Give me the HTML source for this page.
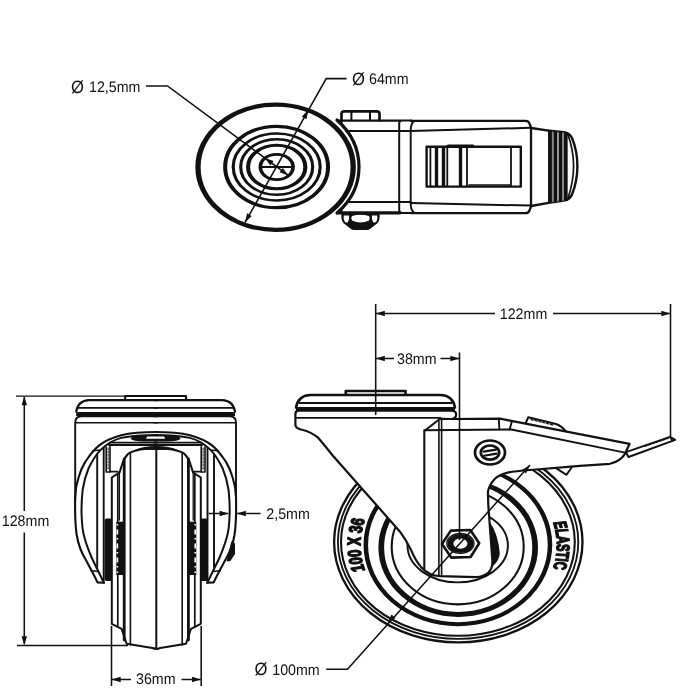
<!DOCTYPE html>
<html>
<head>
<meta charset="utf-8">
<title>Caster dimensions</title>
<style>
html,body{margin:0;padding:0;background:#fff;}
body{width:700px;height:700px;overflow:hidden;}
svg{display:block;opacity:0.999;will-change:transform;}
svg text{font-family:"Liberation Sans",sans-serif;fill:#111;-webkit-font-smoothing:antialiased;text-rendering:geometricPrecision;}
.t{font-size:15.3px;}
.k{stroke:#111;fill:none;stroke-linecap:round;stroke-linejoin:round;}
.w{fill:#fff;}
.b{fill:#111;stroke:none;}
.d{stroke:#111;stroke-width:1.55;fill:none;}
</style>
</head>
<body>
<svg width="700" height="700" viewBox="0 0 700 700">
<rect width="700" height="700" fill="#fff"/>
<defs>
<path id="ah" d="M0,0 L-9,-2.7 L-9,2.7 Z"/>
</defs>

<!-- ================= TOP VIEW ================= -->
<g id="topview" class="k" stroke-width="1.8">
<!--TOP-->
<!-- bolt head (top) -->
<path d="M341.5,120.5 V114 Q341.5,111.3 344.2,111.3 H376.8 Q379.5,111.3 379.5,114 V120.5" stroke-width="2.7"/>
<path d="M351.4,112 V120 M370,112 V120" stroke-width="2"/>
<!-- body left part -->
<path d="M338,120.6 H400 M346,131 H410.7 M349,202 H410.7 M338,212.6 H400" stroke-width="2.2"/>
<path d="M341.5,120.6 V124 M341.5,212.6 V208" stroke-width="2"/>
<!-- collar -->
<path d="M411.5,120.6 H401.8 Q399.2,120.6 399.2,123.4 V210 Q399.2,213 401.8,213 H411.5" stroke-width="2"/>
<path d="M414,121 Q410.8,124 410.7,130 V204 Q410.8,210 414,212.6" stroke-width="1.9"/>
<!-- body right part -->
<path d="M411,120.8 H525.5 Q528.6,120.8 529.4,123.4 L531.2,128 L548.6,130.7" stroke-width="2.3"/>
<path d="M411,213.2 H525.5 Q528.6,213.2 529.4,210.6 L531.2,206 L548.6,202.8" stroke-width="2.3"/>
<path d="M411,131 L530.5,127.8 M411,203 L530.5,205.6" stroke-width="2"/>
<path d="M531,128 V206" stroke-width="2.3"/>
<!-- ribbed tail -->
<path d="M548.6,130.7 L564,132.2 Q569.5,132.8 572,138 Q577.4,151 577.4,166 Q577.4,181 572,194.6 Q569.5,199.6 564,200.6 L548.6,202.8" stroke-width="2.4"/>
<path d="M550,131 V202.4 M555.3,131.5 V202 M560.6,132 V201.4 M565.7,132.5 V200.8" stroke-width="3.9" stroke-linecap="butt"/>
<path d="M552.65,131.4 V202.2 M557.95,131.8 V201.8 M563.2,132.3 V201.2" stroke-width="1.4" stroke="#888" stroke-linecap="butt"/>
<path d="M567.6,133.6 Q573.6,150 573.6,166 Q573.6,182 567.6,199.4" stroke-width="1.7"/>
<!-- brake window -->
<path d="M426.6,146.7 H520.8 V186.6 H426.6 Z" stroke-width="2.4"/>
<path d="M448,145.2 H473 L473.8,146.6 M469,185 H510" stroke-width="1.6"/>
<path d="M430.4,147 V186 M447.3,146 V186 M467,147 V186 M511,147 V186" stroke-width="1.8"/>
<path d="M436.5,147 V186 M443.5,147 V186 M460.5,147 V186" stroke-width="3.4" stroke-linecap="butt"/>
<!-- bolt nut (bottom) -->
<path d="M341.6,213 Q340.4,219 343.6,223.2 L351,229 Q352.2,230 354,230 H367 Q368.8,230 370,229 L377.4,223.2 Q380.6,219 379.4,213 Z" class="b" stroke="#111" stroke-width="1.2"/>
<path d="M343.8,215.4 H349 Q349.8,219 347.8,222.2 Q346,223.2 344.6,221.4 Q343.2,218.4 343.8,215.4 Z M377.2,215.4 H372 Q371.2,219 373.2,222.2 Q375,223.2 376.4,221.4 Q377.8,218.4 377.2,215.4 Z M352,216 Q360.5,213.6 369,216 Q370.6,218 369,220.6 Q360.5,224.4 352,220.6 Q350.4,218 352,216 Z" fill="#fff" stroke="none"/>
<path d="M338,213 H400" stroke-width="2.8"/>
<!-- outer ellipse -->
<g transform="translate(275.6,167.2) scale(1.24,1)"><circle r="62.6" stroke-width="4.3" style="fill:#fff"/></g>
<!-- plate arc (right side crescent) -->
<path d="M337,120 C351.5,133 359,150 359,167 C359,184 351.5,200.5 337,213" stroke-width="3.2"/>
<!-- inner rings -->
<g transform="translate(276.6,167) scale(1.264,1)"><circle r="40.7" stroke-width="3.2"/></g>
<g transform="translate(276.7,167) scale(1.30,1)"><circle r="33.45" stroke-width="2.4"/><circle r="27.7" stroke-width="2.4"/></g>
<g transform="translate(276.7,167) scale(1.32,1)"><circle r="21.7" stroke-width="3.1"/></g>
<g transform="translate(276.7,167) scale(1.30,1)"><circle r="12.6" stroke-width="2.8"/></g>
<path d="M261,167 H292.5" stroke-width="1.8"/>
</g>

<!-- ================= FRONT VIEW ================= -->
<g id="frontview" class="k" stroke-width="1.6">
<!--FRONT-->
<defs>
<g id="fhalf">
  <!-- raised boss, plate, seal line, housing -->
  <path d="M154,396 H186 V399.6" stroke-width="2.2"/>
  <path d="M154,400.1 H222 Q233.2,400.5 235,411.6" stroke-width="2.1"/>
  <path d="M154,407.9 H233.4" stroke-width="1.6"/>
  <path d="M154,413.9 H235" stroke-width="4" stroke-linecap="butt"/>
  <path d="M154,416.3 H230 Q236,416.5 236,422.5 V500" stroke-width="1.9"/>
  <path d="M154,422.7 H235.5" stroke-width="1.6"/>
  <!-- fork arcs -->
  <path d="M154,432 C170,432 181,433 190,435.3 C200,438 207,441.5 212.3,445.6 C218,450 222,456 226,461.9 C229,467 231,472 232.5,477 C234.5,483 235.8,490 236,497 C236.3,510 236,525 234.5,535 C232.5,547 229,554 225.3,560 C221,568 217,575 213.7,582.4 L207.3,582.8" stroke-width="2.1"/>
  <path d="M154,434.9 C170,434.9 181,435.8 190,437.9 C198,440 205,444.5 210.6,449.9 C215,454.5 219,461 222.5,468 C225.5,475 227.5,483 228.6,490 C229.6,500 229.8,510 229.6,515 C229.3,525 228.5,532 226.6,538 C224.5,546 221.5,553 218.9,559 C215,567 211,575 207.3,582.8" stroke-width="2"/>
  <path d="M210.6,449.9 L218.3,450.7 M214,571.5 L220.3,570.6" stroke-width="1.5"/>
  <!-- fork plate verticals -->
  <path d="M207.5,448 V581 M214,454 V567" stroke-width="1.9"/>
  <!-- bearing top -->
  <path d="M154,435.4 H172 Q181.5,436.4 180.4,439 Q178,441.4 168,441.4 H154 Z" class="b"/>
  <path d="M154,436.4 H164 L165.2,438.8 H154 Z" fill="#fff" stroke="none"/>
  <path d="M154,442.3 H201" stroke-width="1.2"/>
  <path d="M154,444.8 H202" stroke-width="2.4"/>
  <!-- hook -->
  <path d="M201.2,446.5 V472 H205 V447" stroke-width="1.6"/>
  <path d="M203.1,448 V470" stroke-width="1" stroke-dasharray="2 1.2"/>
  <path d="M193.4,471.6 H201.2" stroke-width="1.7"/>
</g>
<g id="fwheel">
  <!-- wheel outline (right half) -->
  <path d="M154,449 C162,448.4 168,448.6 172,449.4 C178,450.5 182.5,451.8 184.6,454 C188,457.5 189.8,461.5 190.7,465 L193,472.4 L195.6,474.2 L200.8,477.5 V623.8 L191,628.8 L186,643.8 L155.6,648.8 L154,648.8" stroke-width="2" fill="#fff"/>
  <path d="M154,446 C164,445.8 172,447 178,450 L172,449.8 C168,449.6 162,449.6 154,450 Z" class="b" stroke="#111" stroke-width="1.4"/>
  <path d="M194.8,474 V627" stroke-width="1.7"/>
  <path d="M188.4,459 V640" stroke-width="2.8"/>
  <path d="M182.2,452.5 V645" stroke-width="1.6"/>
  <path d="M193.2,472 V520" stroke-width="1.3"/>
  <!-- hub bars -->
  <rect x="200.4" y="518.5" width="7.6" height="62.5" rx="2.2" class="b"/>
  <path d="M192.5,521.7 V575" stroke-width="7.6" stroke-linecap="butt"/>
  <path d="M195.2,524 V573" stroke-width="1.6" stroke="#fff" stroke-linecap="butt" stroke-dasharray="1.4 4.2 5 3.4 1.4 4 5 3.6"/>
</g>
</defs>
<use href="#fhalf"/>
<use href="#fhalf" transform="translate(311.2,0) scale(-1,1)"/>
<use href="#fwheel"/>
<use href="#fwheel" transform="translate(312.6,0) scale(-1,1)"/>
<path d="M156.3,449.5 V648.6" stroke-width="2"/>
<!-- small nub on right of fork -->
<path d="M231.2,541.8 L233,541.6 L235,543.6 V554 L230.4,561 L226.6,561.4 Z" class="b" stroke="#111" stroke-width="1"/>
</g>

<!-- ================= SIDE VIEW ================= -->
<g id="sideview" class="k" stroke-width="1.6">
<!--SIDE-->
<!-- wheel (behind bracket) -->
<g id="wheel">
<ellipse cx="458.3" cy="542" rx="124.2" ry="100.4" stroke-width="2.32" style="fill:#fff"/>
<ellipse cx="458.1" cy="542" rx="120.2" ry="96.9" stroke-width="1.83"/>
<ellipse cx="457.9" cy="542" rx="116.9" ry="93.8" stroke-width="2.07"/>
<g transform="translate(457.9,544.8) scale(1.16,1)"><circle r="79.4" stroke-width="3.90"/></g>
<g transform="translate(458.2,547.5) scale(1.15,1)"><circle r="66.9" stroke-width="5.00"/></g>
<ellipse cx="457.7" cy="546.8" rx="66" ry="57.6" stroke-width="2.07"/>
<ellipse cx="457.7" cy="545.6" rx="50.2" ry="36.8" stroke-width="1.95"/>
<path d="M489,521 Q498,533 499.8,553 Q499.6,560 493,566 L488,540 Z" class="b" stroke="#111" stroke-width="1.71"/>
</g>
<!-- small tab under lever -->
<path d="M556,468.2 L566.5,474.8 L571.5,467.8" stroke-width="1.95" style="fill:#fff"/>
<!-- pedal extension strip -->
<path d="M626,452.2 L670,436.8 L675.2,439.8 L628.5,457 Z" stroke-width="1.95" style="fill:#fff"/>
<path d="M670,437 L672.6,441" stroke-width="1.59"/>
<path d="M645,446.3 L668,438.4" stroke-width="1.15" stroke-dasharray="2.2 1.6"/>
<!-- lever top tab -->
<path d="M525.5,423.6 L528.2,417.3 L556,424 Q562,426 565.5,431.2" stroke-width="2.07" style="fill:#fff"/>
<path d="M531,419.6 L554,425.2" stroke-width="1.15" stroke-dasharray="2.4 1.6"/>
<!-- bracket silhouette -->
<path d="M295.4,414 Q295.4,410.7 299,410.7 H451.5 Q456.2,411 456.2,414.5 Q456,418.2 452,419 L500,418.6 L508.8,420.4 L629.6,443.8 L625,453.8 Q620,461.5 610,463.8 L580,465.8 L530,470 Q515,471.2 508.6,472.4 Q498,475 494.3,479.4 Q489,485 487.9,492 L488.3,505 L492.4,561 Q492.8,575.8 476,577.2 L440,576.2 Q429,575.6 421,566.9 Q415,560 410.9,549.7 Q406,540 400,531.7 L332.9,455.7 Q321,441 317.9,437.5 Q310,431.5 302.9,430 Q295.4,428.5 295.4,425 Z" stroke-width="2.20" style="fill:#fff"/>
<!-- plate on top -->
<path d="M345.8,394.6 V391 H405.5 V394.6" stroke-width="2.68"/>
<path d="M296,407.6 Q298,395.4 310.5,395 H440.5 Q453,395.4 455,407.6" stroke-width="2.56"/>
<path d="M299.4,402.9 H451.6" stroke-width="1.95"/>
<path d="M296,409 H455" stroke-width="4.00" stroke-linecap="butt"/>
<!-- interior lines -->
<path d="M296.5,417.8 H440.5" stroke-width="1.83"/>
<path d="M452,419 L440,418.8 L424.3,431 V569" stroke-width="2.07"/>
<path d="M438.9,420 V576 M441.6,420 V576" stroke-width="1.59"/>
<path d="M424.3,430.2 L511.3,429.5 L625,452.6" stroke-width="1.95"/>
<path d="M498.8,418.7 L499.4,429.4 M512,421 L509.6,429.6" stroke-width="1.9"/>
<!-- screw -->
<ellipse cx="490" cy="452.5" rx="15" ry="12" stroke-width="2.68"/>
<ellipse cx="490" cy="452.6" rx="9.2" ry="7.1" stroke-width="2.7"/>
<path d="M483.6,451.6 L496,449.6 M484,455.8 L496.6,453.6" stroke-width="2.1"/>
<!-- axle nut -->
<path d="M442,544 L450.8,530.6 L470.4,530 L479.2,543.2 L470.6,557 L451.2,557.6 Z" stroke-width="2.6" style="fill:#fff"/>
<ellipse cx="460.4" cy="543.4" rx="13.6" ry="9.9" stroke-width="1.3"/>
<g transform="translate(460.4,543.6) scale(1.38,1)"><circle r="7.3" stroke-width="4.4"/></g>
<!-- tyre lettering -->
<g transform="translate(458.75,545) scale(1,0.70)">
<path id="arcL" d="M-80,69.9 A98.4,120 0 0 1 -80,-69.9" fill="none" stroke="none"/>
<text style="font-size:18.5px;font-weight:700;" text-anchor="middle"><textPath href="#arcL" startOffset="50%">100 X 36</textPath></text>
</g>
<g transform="translate(458.75,545.5) scale(1,0.615)">
<path id="arcR" d="M80,-79.5 A98.2,137 0 0 1 80,79.5" fill="none" stroke="none"/>
<text style="font-size:18px;font-weight:700;" text-anchor="middle"><textPath href="#arcR" startOffset="50%">ELASTIC</textPath></text>
</g>
</g>

<!-- ================= DIMENSIONS ================= -->
<g id="dims">
<!--DIMS-->
<g class="d">
<!-- Ø12,5 leader -->
<path d="M146,86 H167.5 L288.4,175.4"/>
<!-- Ø64 leader -->
<path d="M346.6,78.6 H326.2 L245,222.5"/>
<!-- 128 -->
<path d="M16,396.2 H125.5" stroke-width="1.25"/>
<path d="M17,645.5 H128" stroke-width="1.3"/>
<path d="M24.3,397 V511 M24.3,532.5 V644"/>
<!-- 36 -->
<path d="M111.5,626 V686 M201.2,626 V686"/>
<path d="M112,679.5 H131 M181.5,679.5 H200.6"/>
<!-- 2,5 -->
<path d="M208.6,513.5 H228.4 M237,513.5 H260.6"/>
<!-- 38 / 122 -->
<path d="M375.7,304 V415 M459.5,352.5 V540 M670.5,304 V436.5"/>
<path d="M376,313.5 H495 M553,313.5 H670"/>
<path d="M376,358.5 H394 M440.5,358.5 H459"/>
<!-- Ø100 leader -->
<path d="M326.2,669.3 H347.5 L530,465"/>
</g>
<g fill="#111" stroke="none">
<use href="#ah" transform="translate(264.8,157.9) rotate(216.5)"/>
<use href="#ah" transform="translate(288.4,175.4) rotate(36.5)"/>
<use href="#ah" transform="translate(308.5,110) rotate(-60.6)"/>
<use href="#ah" transform="translate(245,222.5) rotate(119.4)"/>
<use href="#ah" transform="translate(24.3,396.3) rotate(-90)"/>
<use href="#ah" transform="translate(24.3,645.3) rotate(90)"/>
<use href="#ah" transform="translate(111.7,679.5) rotate(180)"/>
<use href="#ah" transform="translate(201,679.5)"/>
<use href="#ah" transform="translate(228.6,513.5)"/>
<use href="#ah" transform="translate(236.8,513.5) rotate(180)"/>
<use href="#ah" transform="translate(375.8,313.5) rotate(180)"/>
<use href="#ah" transform="translate(670.4,313.5)"/>
<use href="#ah" transform="translate(375.8,358.5) rotate(180)"/>
<use href="#ah" transform="translate(459.4,358.5)"/>
<use href="#ah" transform="translate(530,465) rotate(-48.2)"/>
<use href="#ah" transform="translate(387.5,623) rotate(131.8)"/>
</g>
<g class="t">
<text transform="translate(70.9,91.9) scale(0.93,1)"><tspan style="font-size:17.9px" dy="0.6">Ø</tspan><tspan dx="5.54" dy="-0.6">12,5mm</tspan></text>
<text transform="translate(351.9,83.9) scale(0.93,1)"><tspan style="font-size:17.9px" dy="0.6">Ø</tspan><tspan dx="4.46" dy="-0.6">64mm</tspan></text>
<text transform="translate(1.8,526.4) scale(0.93,1)">128mm</text>
<text transform="translate(136,684.4) scale(0.93,1)">36mm</text>
<text transform="translate(266.3,519.2) scale(0.93,1)">2,5mm</text>
<text transform="translate(397,364.3) scale(0.93,1)">38mm</text>
<text transform="translate(499.8,319.3) scale(0.93,1)">122mm</text>
<text transform="translate(254.4,674.7) scale(0.93,1)"><tspan style="font-size:17.9px" dy="0.6">Ø</tspan><tspan dx="5.32" dy="-0.6">100mm</tspan></text>
</g>
</g>
</svg>
</body>
</html>
